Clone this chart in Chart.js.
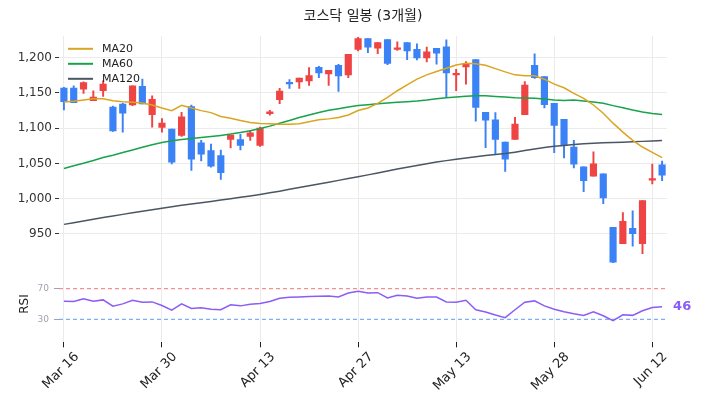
<!DOCTYPE html>
<html>
<head>
<meta charset="utf-8">
<script src="https://cdn.jsdelivr.net/npm/chart.js@4.4.0/dist/chart.umd.min.js"></script>
<style>
  html, body { margin: 0; padding: 0; background: #fff; }
  #wrap { width: 701px; height: 411px; }
</style>
</head>
<body>
<div id="wrap"><canvas id="chart"></canvas></div>
<script>
// trading days shown on the x axis
const dates = [
  'Mar 16','Mar 17','Mar 18','Mar 19','Mar 20','Mar 23','Mar 24','Mar 25','Mar 26','Mar 27',
  'Mar 30','Mar 31','Apr 1','Apr 2','Apr 3','Apr 6','Apr 7','Apr 8','Apr 9','Apr 10',
  'Apr 13','Apr 14','Apr 15','Apr 16','Apr 17','Apr 20','Apr 21','Apr 22','Apr 23','Apr 24',
  'Apr 27','Apr 28','Apr 29','Apr 30','May 4','May 6','May 7','May 8','May 11','May 12',
  'May 13','May 14','May 15','May 18','May 19','May 20','May 21','May 22','May 26','May 27',
  'May 28','May 29','Jun 1','Jun 2','Jun 4','Jun 5','Jun 8','Jun 9','Jun 10','Jun 11',
  'Jun 12','Jun 15'
];

const opens = [
  1156.8, 1156.8, 1155.4, 1139.0, 1153.1, 1130.1, 1134.3, 1132.9, 1159.2, 1119.3,
  1101.0, 1098.7, 1089.8, 1130.6, 1079.4, 1068.2, 1061.1, 1084.1, 1083.7, 1088.3,
  1075.7, 1120.7, 1140.4, 1164.3, 1165.7, 1167.1, 1186.4, 1177.0, 1189.2, 1175.6,
  1211.7, 1227.2, 1213.6, 1225.8, 1211.7, 1221.5, 1211.7, 1199.5, 1213.1, 1215.4,
  1175.6, 1186.8, 1197.2, 1122.6, 1111.8, 1080.4, 1084.1, 1119.3, 1189.2, 1173.2,
  1135.2, 1112.7, 1073.3, 1045.2, 1032.1, 1035.3, 959.4, 936.4, 958.0, 936.4,
  1026.4, 1048.0
];
const closes = [
  1137.6, 1136.2, 1164.8, 1144.2, 1162.4, 1096.3, 1121.2, 1160.1, 1134.3, 1140.9,
  1107.1, 1051.8, 1116.0, 1056.0, 1063.0, 1046.1, 1036.8, 1090.2, 1075.7, 1093.5,
  1100.1, 1123.1, 1152.6, 1162.9, 1170.9, 1174.6, 1178.4, 1182.1, 1174.2, 1204.7,
  1227.2, 1215.0, 1221.5, 1192.0, 1214.0, 1209.4, 1199.5, 1208.4, 1206.5, 1178.4,
  1177.9, 1191.5, 1129.6, 1111.3, 1084.1, 1056.0, 1105.7, 1161.0, 1171.8, 1133.4,
  1103.8, 1075.7, 1048.9, 1025.5, 1049.4, 1001.1, 910.1, 967.8, 950.5, 997.4,
  1028.3, 1033.5
];
const highs = [
  1157.8, 1160.1, 1165.7, 1153.1, 1167.1, 1131.5, 1135.2, 1160.1, 1169.5, 1146.0,
  1113.7, 1098.7, 1122.6, 1132.9, 1082.7, 1077.6, 1069.1, 1090.2, 1091.2, 1096.8,
  1101.5, 1125.4, 1156.4, 1169.0, 1170.9, 1185.9, 1187.8, 1182.1, 1190.6, 1204.7,
  1229.0, 1227.2, 1221.5, 1225.8, 1222.5, 1221.5, 1219.7, 1215.0, 1213.1, 1225.3,
  1183.6, 1194.3, 1197.2, 1122.6, 1122.1, 1080.4, 1115.5, 1166.2, 1205.6, 1173.2,
  1135.2, 1112.7, 1082.7, 1045.2, 1066.3, 1035.3, 959.4, 980.5, 982.8, 997.4,
  1049.0, 1053.2
];
const lows = [
  1125.9, 1136.2, 1149.3, 1139.0, 1145.1, 1095.4, 1094.4, 1132.0, 1134.3, 1101.5,
  1094.4, 1049.4, 1088.3, 1040.0, 1053.6, 1044.7, 1027.4, 1071.9, 1069.1, 1082.7,
  1074.3, 1118.4, 1134.8, 1156.4, 1156.4, 1160.6, 1171.8, 1160.6, 1152.1, 1171.8,
  1209.4, 1207.0, 1205.6, 1190.1, 1210.3, 1197.2, 1196.7, 1193.9, 1190.6, 1143.7,
  1153.1, 1162.4, 1109.9, 1072.4, 1064.0, 1038.6, 1084.1, 1119.3, 1170.4, 1128.7,
  1065.4, 1057.9, 1043.8, 1010.0, 1032.1, 993.1, 909.2, 936.4, 932.6, 921.9,
  1020.8, 1025.5
];

const ma20 = [
  1137.1, 1138.1, 1139.9, 1141.8, 1141.8, 1139.0, 1137.6, 1136.7, 1135.7, 1132.9,
  1128.5, 1124.9, 1132.4, 1128.7, 1124.9, 1122.1, 1116.5, 1114.1, 1110.9, 1108.0,
  1106.6, 1106.2, 1105.7, 1105.7, 1106.2, 1109.0, 1111.8, 1113.2, 1115.1, 1118.8,
  1125.0, 1128.7, 1135.2, 1143.7, 1153.1, 1161.5, 1169.5, 1175.6, 1180.3, 1185.0,
  1189.7, 1192.2, 1191.5, 1189.2, 1184.5, 1179.8, 1175.6, 1174.2, 1174.2, 1169.5,
  1162.4, 1157.3, 1149.3, 1142.3, 1132.9, 1121.2, 1107.1, 1094.5, 1082.7, 1073.3,
  1065.8, 1058.3
];
const ma60 = [
  1042.9, 1046.6, 1050.4, 1054.1, 1058.3, 1061.6, 1065.4, 1069.1, 1072.9, 1076.6,
  1079.6, 1082.2, 1084.1, 1085.5, 1086.9, 1088.3, 1089.8, 1091.6, 1094.0, 1096.3,
  1099.6, 1102.9, 1107.1, 1110.9, 1115.1, 1118.8, 1122.1, 1125.4, 1127.7, 1130.1,
  1132.0, 1133.4, 1134.8, 1135.7, 1136.7, 1137.6, 1138.5, 1139.9, 1141.8, 1143.2,
  1144.2, 1145.3, 1146.0, 1146.0, 1145.1, 1144.2, 1143.2, 1142.8, 1142.3, 1141.3,
  1139.9, 1139.2, 1139.9, 1138.5, 1137.1, 1135.2, 1132.0, 1129.1, 1125.9, 1123.1,
  1120.7, 1119.3
];
const ma120 = [
  963.6, 966.0, 968.3, 970.9, 973.2, 975.5, 977.8, 980.0, 982.2, 984.5,
  986.6, 988.5, 990.6, 992.4, 994.3, 996.1, 998.1, 1000.0, 1002.1, 1004.0,
  1006.0, 1008.3, 1010.7, 1013.3, 1015.9, 1018.5, 1021.0, 1023.4, 1026.0, 1028.6,
  1031.2, 1033.8, 1036.4, 1039.2, 1042.0, 1044.6, 1047.2, 1049.6, 1051.9, 1054.0,
  1056.0, 1057.8, 1059.6, 1061.2, 1062.6, 1064.0, 1066.0, 1068.3, 1070.6, 1072.6,
  1074.3, 1075.6, 1076.8, 1077.9, 1078.7, 1079.3, 1079.8, 1080.2, 1080.6, 1081.3,
  1082.0, 1082.7
];
const rsi = [
  53.7, 53.2, 56.7, 53.7, 55.4, 47.2, 50.2, 54.9, 52.4, 52.8,
  48.1, 42.0, 50.2, 44.2, 45.1, 43.3, 42.5, 48.9, 47.6, 49.8,
  50.6, 53.2, 57.5, 58.8, 59.2, 59.7, 60.1, 60.5, 59.2, 64.4,
  66.6, 64.4, 64.8, 58.0, 61.4, 60.5, 57.5, 59.2, 59.2, 52.8,
  52.4, 54.9, 42.5, 39.5, 35.6, 32.2, 42.5, 52.4, 54.1, 47.6,
  43.3, 39.9, 37.3, 35.2, 39.9, 34.7, 28.3, 36.0, 35.2, 41.2,
  45.5, 46.3
];
const rsiLevels = [30, 70];
const rsiLevelColors = ['rgba(59,130,246,0.65)', 'rgba(239,68,68,0.6)'];
const priceTicks = [950, 1000, 1050, 1100, 1150, 1200];

const UP = '#ef4444';
const DOWN = '#3b82f6';
const candleColor = ctx => closes[ctx.dataIndex] >= opens[ctx.dataIndex] ? UP : DOWN;

Chart.defaults.font.family = "'DejaVu Sans', 'Noto Sans CJK KR', sans-serif";
Chart.defaults.color = '#222';

// dashed overbought / oversold lines in the RSI pane
const rsiBands = {
  id: 'rsiBands',
  beforeDatasetsDraw(chart) {
    const { ctx, chartArea, scales } = chart;
    ctx.save();
    ctx.lineWidth = 1.2;
    ctx.setLineDash([4, 3]);
    rsiLevels.forEach((lv, k) => {
      const y = scales.rsi.getPixelForValue(lv);
      ctx.strokeStyle = rsiLevelColors[k];
      ctx.beginPath();
      ctx.moveTo(chartArea.left, y);
      ctx.lineTo(chartArea.right, y);
      ctx.stroke();
    });
    ctx.restore();
  }
};

// MA legend drawn inside the top-left of the plot
const maLegend = {
  id: 'maLegend',
  afterDraw(chart) {
    const { ctx, chartArea } = chart;
    const items = chart.data.datasets.filter(d => d.label.startsWith('MA'));
    ctx.save();
    ctx.font = "11px 'DejaVu Sans'";
    ctx.textBaseline = 'middle';
    items.forEach((d, k) => {
      const y = chartArea.top + 13 + k * 15;
      ctx.strokeStyle = d.borderColor;
      ctx.lineWidth = 2;
      ctx.beginPath();
      ctx.moveTo(chartArea.left + 9, y);
      ctx.lineTo(chartArea.left + 34, y);
      ctx.stroke();
      ctx.fillStyle = '#222';
      ctx.fillText(d.label, chartArea.left + 43, y);
    });
    ctx.restore();
  }
};

// last RSI value at the right end of the line
const rsiTag = {
  id: 'rsiTag',
  afterDatasetsDraw(chart) {
    const idx = chart.data.datasets.findIndex(d => d.label === 'RSI');
    const pts = chart.getDatasetMeta(idx).data;
    const last = pts[pts.length - 1];
    const { ctx } = chart;
    ctx.save();
    ctx.font = "bold 13px 'DejaVu Sans'";
    ctx.fillStyle = '#8b5cf6';
    ctx.textBaseline = 'middle';
    ctx.fillText(String(Math.round(rsi[rsi.length - 1])), last.x + 11, last.y);
    ctx.restore();
  }
};

new Chart(document.getElementById('chart'), {
  type: 'bar',
  data: {
    labels: dates,
    datasets: [
      { type: 'line', label: 'MA20', data: ma20, borderColor: '#daa520', borderWidth: 1.5, pointRadius: 0, yAxisID: 'y', order: 1 },
      { type: 'line', label: 'MA60', data: ma60, borderColor: '#16a34a', borderWidth: 1.5, pointRadius: 0, yAxisID: 'y', order: 1 },
      { type: 'line', label: 'MA120', data: ma120, borderColor: '#4b5563', borderWidth: 1.5, pointRadius: 0, yAxisID: 'y', order: 1 },
      { label: 'wick', data: lows.map((l, i) => [l, highs[i]]), backgroundColor: candleColor,
        barThickness: 1.3, grouped: false, yAxisID: 'y', order: 3 },
      { label: 'body', data: opens.map((o, i) => [o, closes[i]]), backgroundColor: candleColor,
        barThickness: 6.5, minBarLength: 1.5, grouped: false, yAxisID: 'y', order: 2 },
      { type: 'line', label: 'RSI', data: rsi, borderColor: '#8b5cf6', borderWidth: 1.5, pointRadius: 0, yAxisID: 'rsi', order: 1 }
    ]
  },
  options: {
    responsive: true,
    maintainAspectRatio: false,
    animation: false,
    layout: { padding: { left: 0, right: 34, top: 0, bottom: 15 } },
    plugins: {
      legend: { display: false },
      tooltip: { enabled: false },
      title: {
        display: true,
        fullSize: false,
        text: '코스닥 일봉 (3개월)',
        font: { size: 14, weight: 'normal' },
        color: '#222',
        padding: { top: 8, bottom: 11 }
      }
    },
    scales: {
      x: {
        offset: true,
        border: { display: false },
        grid: { offset: false, color: '#ebebeb', tickColor: '#222', tickLength: 5 },
        ticks: {
          autoSkip: false, minRotation: 45, maxRotation: 45, padding: 2, labelOffset: 13,
          font: { size: 13 }, color: '#222',
          callback: (v, i) => i % 10 === 0 ? dates[i] : null
        }
      },
      // the stack places the later-defined axis on top, so RSI comes first
      rsi: {
        stack: 'panes', stackWeight: 1, position: 'left',
        min: 0, max: 100,
        border: { display: false },
        grid: { drawOnChartArea: false, tickColor: '#9ca3af', tickLength: 5 },
        afterBuildTicks: s => { s.ticks = rsiLevels.map(v => ({ value: v })); },
        afterFit: s => { s.width = 59; },
        ticks: { padding: 5, font: { size: 9 }, color: '#9ca3af' },
        title: { display: true, text: 'RSI', font: { size: 12 }, color: '#222', padding: { top: 18, bottom: 0 } }
      },
      y: {
        stack: 'panes', stackWeight: 3, position: 'left',
        min: 905, max: 1231,
        border: { display: false },
        grid: { color: '#ebebeb', tickColor: '#333', tickLength: 4 },
        afterBuildTicks: s => { s.ticks = priceTicks.map(v => ({ value: v })); },
        afterFit: s => { s.width = 59; },
        ticks: {
          padding: 3, font: { size: 12 }, color: '#333',
          callback: v => v.toLocaleString('en-US')
        }
      }
    }
  },
  plugins: [rsiBands, maLegend, rsiTag]
});
</script>
</body>
</html>
